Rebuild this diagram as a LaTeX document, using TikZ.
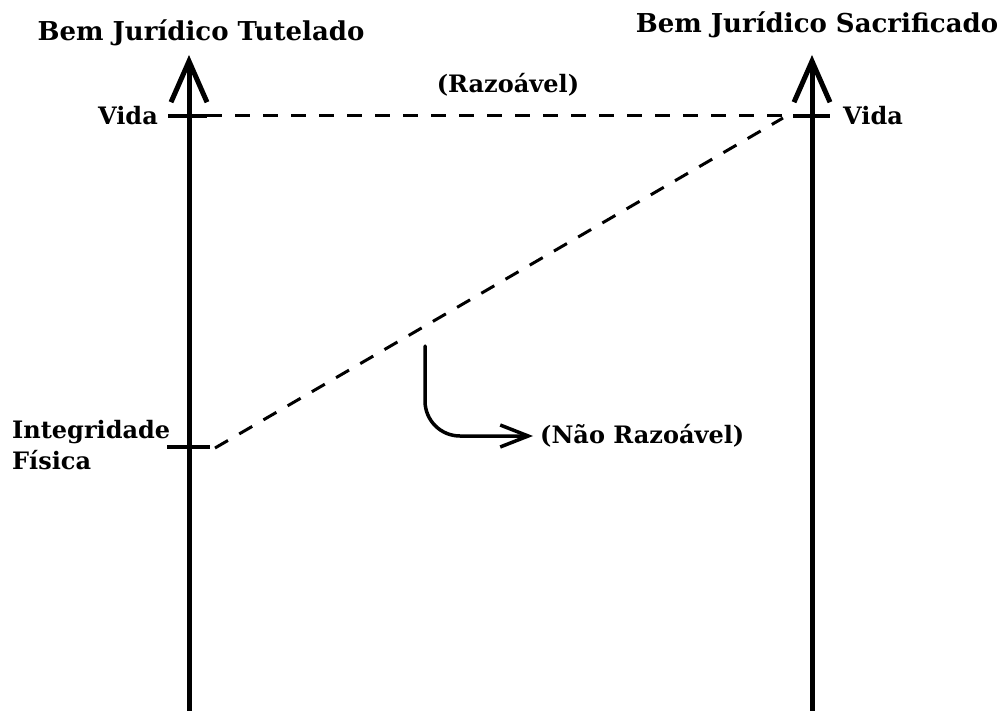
\documentclass[tikz,border=0pt]{standalone}
\usepackage{fontspec}
\setmainfont{DejaVu Serif}
\usetikzlibrary{arrows.meta}

\begin{document}
\begin{tikzpicture}[x=1pt,y=-1pt,line cap=round,
  lbl/.style={font=\bfseries\fontsize{24}{31}\selectfont,inner sep=0pt},
  titulo/.style={font=\bfseries\fontsize{26}{31}\selectfont,inner sep=0pt},
  eixo/.style={line width=5pt,-{Straight Barb[length=41pt,width=36pt]}},
  marca/.style={line width=3.5pt,line cap=butt},
  tracejado/.style={line width=3pt,line cap=butt,dash pattern=on 15pt off 13pt}]
  \useasboundingbox (0,0) rectangle (1008,711);
  % eixos
  \coordinate (baseT) at (189,711);
  \coordinate (topoT) at (189,55);
  \coordinate (baseS) at (812,711);
  \coordinate (topoS) at (812,55);
  \draw[eixo] (baseT)--(topoT);
  \draw[eixo] (baseS)--(topoS);
  \node[titulo] (tutelado) at (201,33) {Bem Jurídico Tutelado};
  \node[titulo] (sacrificado) at (817,25) {Bem Jurídico Sacrificado};
  % marcas
  \coordinate (vidaT1) at (168,116);
  \coordinate (vidaT2) at (207,116);
  \coordinate (vidaS1) at (793,116);
  \coordinate (vidaS2) at (830,116);
  \coordinate (integT1) at (167,447);
  \coordinate (integT2) at (210,447);
  \draw[marca] (vidaT1)--(vidaT2);
  \draw[marca] (vidaS1)--(vidaS2);
  \draw[marca] (integT1)--(integT2);
  \node[lbl,anchor=east] (vidaT) at (158,116) {Vida};
  \node[lbl,anchor=west] (vidaS) at (843,116) {Vida};
  \node[lbl,anchor=west,align=left] (integ) at (12,445) {Integridade\\Física};
  % relacoes
  \coordinate (diagA) at (215,448);
  \coordinate (diagB) at (783,118);
  \draw[tracejado] (vidaT2)--(vidaS1);
  \draw[tracejado] (diagA)--(diagB);
  \node[lbl] (razoavel) at (508,85) {(Razoável)};
  \node[lbl,anchor=west] (nao) at (540,436) {(Não Razoável)};
  \coordinate (curva) at (425,346);
  \draw[line width=3.5pt,rounded corners=35pt,-{Straight Barb[length=28pt,width=22pt]}]
    (curva) |- ([xshift=-7pt]nao.west);
\end{tikzpicture}
\end{document}
